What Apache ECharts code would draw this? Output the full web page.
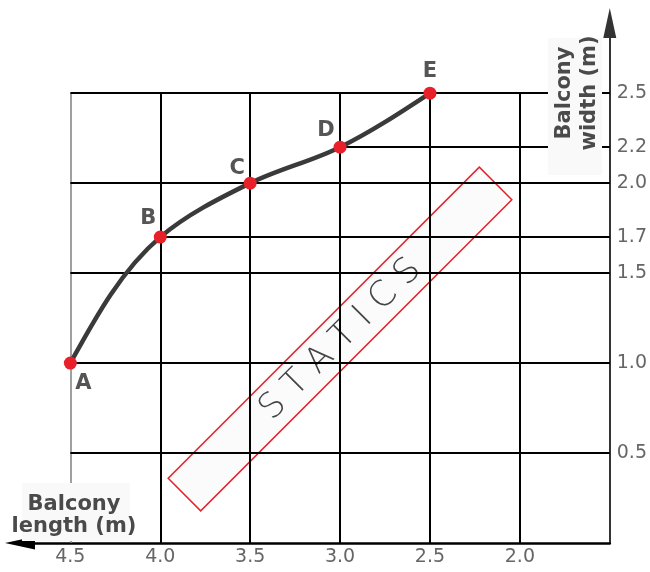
<!DOCTYPE html>
<html>
<head>
<meta charset="utf-8">
<script src="https://cdn.jsdelivr.net/npm/echarts@6/dist/echarts.min.js"></script>
<style>html,body{margin:0;padding:0;background:#fff;}#c{width:650px;height:572px;}</style>
</head>
<body>
<div id="c"></div>
<script>
// ---- data ----
const pointNames = ['A', 'B', 'C', 'D', 'E'];
const lengthValues = [4.5, 4.0, 3.5, 3.0, 2.5];   // Balcony length (m)
const widthValues = [1.0, 1.7, 2.0, 2.2, 2.5];    // Balcony width (m)
const xTickValues = [4.5, 4.0, 3.5, 3.0, 2.5, 2.0];
const yTickValues = [0.5, 1.0, 1.5, 1.7, 2.0, 2.2, 2.5];
const yGridValues = [0.5, 1.0, 1.5, 2.0, 2.5];
const xAxisName = 'Balcony\nlength (m)';
const yAxisName = 'Balcony\nwidth (m)';
const watermark = 'S T A T I C S';

const FONT = 'DejaVu Sans';
const xMin = 1.5, xMax = 4.78, yMin = 0, yMax = 2.89;
const gridTop = yGridValues[yGridValues.length - 1];
const gridStart = xTickValues[0];

// grid line segments built from the tick/point arrays
const gridLines = [];
xTickValues.forEach(function (x, i) {
  gridLines.push({
    coords: [[x, yMin], [x, gridTop]],
    lineStyle: i === 0 ? { color: '#808080', width: 1.5, opacity: 1 } : { color: '#000', width: 2, opacity: 1 }
  });
});
yGridValues.forEach(function (y) {
  gridLines.push({ coords: [[gridStart, y], [xMin, y]], lineStyle: { color: '#000', width: 2, opacity: 1 } });
});
lengthValues.forEach(function (x, i) {
  gridLines.push({ coords: [[x, widthValues[i]], [xMin, widthValues[i]]], lineStyle: { color: '#000', width: 2, opacity: 1 } });
});

const labelOffsets = [[13, 20], [-12, -19], [-13, -15], [-14, -17], [0, -22]];
const pointData = lengthValues.map(function (x, i) {
  return {
    value: [x, widthValues[i]],
    name: pointNames[i],
    label: { offset: labelOffsets[i] }
  };
});

// smooth curve through the points: chordal Catmull-Rom tangent directions
// (natural ends), unit-normalised, computed in pixel space from api.coord
function curveSegment(params, api) {
  const i = params.dataIndex;
  const n = lengthValues.length;
  if (i >= n - 1) return null;
  const P = lengthValues.map(function (x, k) { return api.coord([x, widthValues[k]]); });
  const d = [];
  for (let k = 0; k < n - 1; k++) {
    d[k] = Math.hypot(P[k + 1][0] - P[k][0], P[k + 1][1] - P[k][1]);
  }
  const m = [];
  for (let k = 1; k < n - 1; k++) {
    m[k] = [0, 1].map(function (c) {
      return (P[k][c] - P[k - 1][c]) / d[k - 1]
        - (P[k + 1][c] - P[k - 1][c]) / (d[k - 1] + d[k])
        + (P[k + 1][c] - P[k][c]) / d[k];
    });
  }
  m[0] = [0, 1].map(function (c) {
    return (3 * (P[1][c] - P[0][c]) / d[0] - m[1][c]) / 2;
  });
  m[n - 1] = [0, 1].map(function (c) {
    return (3 * (P[n - 1][c] - P[n - 2][c]) / d[n - 2] - m[n - 2][c]) / 2;
  });
  const u = m.map(function (v) { const l = Math.hypot(v[0], v[1]); return [v[0] / l, v[1] / l]; });
  const p0 = P[i], p1 = P[i + 1], s = d[i] / 3;
  return {
    type: 'bezierCurve',
    shape: {
      x1: p0[0], y1: p0[1], x2: p1[0], y2: p1[1],
      cpx1: p0[0] + u[i][0] * s, cpy1: p0[1] + u[i][1] * s,
      cpx2: p1[0] - u[i + 1][0] * s, cpy2: p1[1] - u[i + 1][1] * s
    },
    style: { stroke: '#3a3a3a', lineWidth: 4.5, fill: null, lineCap: 'round' }
  };
}

const chart = echarts.init(document.getElementById('c'));
chart.setOption({
  animation: false,
  backgroundColor: '#ffffff',
  grid: { left: 20, right: 40, top: 23, bottom: 29, containLabel: false },
  xAxis: {
    type: 'value', inverse: true, min: xMin, max: xMax, position: 'bottom',
    axisLine: { show: true, symbol: ['triangle', 'none'], symbolSize: [13, 30],
      lineStyle: { color: '#000', width: 2.5 } },
    axisTick: { show: false },
    splitLine: { show: false },
    axisLabel: {
      customValues: xTickValues, margin: 5,
      formatter: function (v) { return v.toFixed(1); },
      color: '#666', fontSize: 19, fontFamily: FONT
    }
  },
  yAxis: {
    type: 'value', min: yMin, max: yMax, position: 'right',
    axisLine: { show: true, symbol: ['none', 'triangle'], symbolSize: [13, 30],
      lineStyle: { color: '#333', width: 2 } },
    axisTick: { show: false },
    splitLine: { show: false },
    axisLabel: {
      customValues: yTickValues, margin: 7,
      formatter: function (v) { return v.toFixed(1); },
      color: '#666', fontSize: 19, fontFamily: FONT
    }
  },
  series: [
    {
      type: 'lines', coordinateSystem: 'cartesian2d', silent: true, z: 1,
      lineStyle: { color: '#000', width: 2, opacity: 1 },
      data: gridLines
    },
    {
      type: 'custom', z: 4, silent: true,
      renderItem: curveSegment,
      data: pointData.map(function (d) { return d.value; })
    },
    {
      type: 'scatter', z: 5,
      data: pointData,
      symbol: 'circle', symbolSize: 13,
      itemStyle: { color: '#e8202a', opacity: 1 },
      label: {
        show: true, position: 'inside',
        formatter: function (p) { return p.name; },
        color: '#555', fontSize: 21, fontWeight: 'bold', fontFamily: FONT
      }
    }
  ],
  graphic: [
    {
      type: 'group', x: 340, y: 339, rotation: Math.PI / 4, z: 50,
      children: [
        { type: 'rect', shape: { x: -220, y: -23, width: 440, height: 46 },
          style: { fill: '#fbfbfb', stroke: '#e3242b', lineWidth: 1.5 } },
        { type: 'text', x: 0, y: 1,
          style: { text: watermark, textAlign: 'center', textVerticalAlign: 'middle',
            fill: '#444', font: '200 35px "' + FONT + '"' } }
      ]
    },
    { type: 'rect', z: 50, shape: { x: 548, y: 38, width: 54, height: 137 },
      style: { fill: '#f9f9f9' } },
    { type: 'text', z: 51, x: 577, y: 93, rotation: Math.PI / 2,
      style: { text: yAxisName, textAlign: 'center', textVerticalAlign: 'middle',
        fill: '#4a4a4a', font: 'bold 21px "' + FONT + '"', lineHeight: 25 } },
    { type: 'rect', z: 50, shape: { x: 22, y: 483, width: 108, height: 58 },
      style: { fill: '#f9f9f9' } },
    { type: 'text', z: 51, x: 74, y: 516,
      style: { text: xAxisName, textAlign: 'center', textVerticalAlign: 'middle',
        fill: '#4a4a4a', font: 'bold 21px "' + FONT + '"', lineHeight: 22 } }
  ]
});
</script>
</body>
</html>
